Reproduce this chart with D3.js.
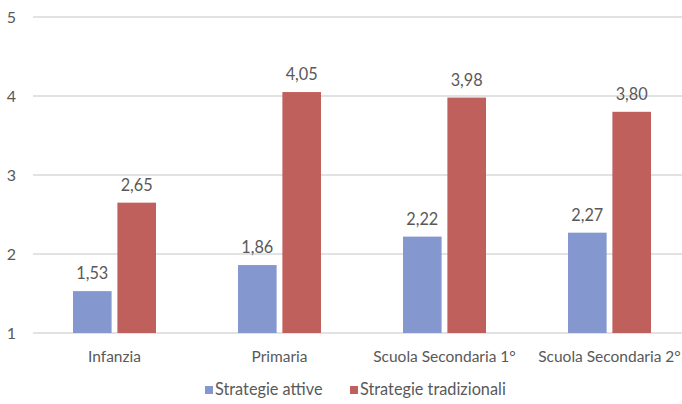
<!DOCTYPE html>
<html><head><meta charset="utf-8">
<script src="https://cdn.jsdelivr.net/npm/d3@7"></script>
<style>body{margin:0;background:#fff}svg{display:block}text{font-family:Lato,"Open Sans",sans-serif;fill:#595959}</style>
</head><body>
<script>
const categories = ["Infanzia","Primaria","Scuola Secondaria 1°","Scuola Secondaria 2°"];
const seriesNames = ["Strategie attive","Strategie tradizionali"];
const attive = [1.53,1.86,2.22,2.27];
const tradizionali = [2.65,4.05,3.98,3.80];
const yTicks = [1,2,3,4,5];
const colors = ["#8497cf","#c0605c"];

const W=682,H=404;
const svg=d3.select("body").append("svg").attr("width",W).attr("height",H);
const x=d3.scaleBand().domain(categories).range([32,692]);
const sub=d3.scaleBand().domain([0,1]).range([0,83]).paddingInner(0.13);
const y=d3.scaleLinear().domain([1,5]).range([333,17]);

const grid=svg.append("g");
grid.selectAll("line").data(yTicks).join("line")
 .attr("x1",33).attr("x2",W).attr("y1",d=>y(d)).attr("y2",d=>y(d))
 .attr("stroke","#d9d9d9").attr("stroke-width",1.3);
svg.append("g").selectAll("text").data(yTicks).join("text")
 .attr("x",16).attr("y",d=>y(d)+5.5).attr("text-anchor","end")
 .style("font-size","16px").text(d=>d);

const fmt=d=>d.toFixed(2).replace(".",",");
const series=[attive,tradizionali];
series.forEach((vals,s)=>{
  const g=svg.append("g");
  const off=d=>x(d)+x.bandwidth()/2-41.5+sub(s);
  g.selectAll("rect").data(categories).join("rect")
   .attr("x",(d)=>off(d)).attr("width",sub.bandwidth())
   .attr("y",(d,i)=>y(vals[i])).attr("height",(d,i)=>y(1)-y(vals[i]))
   .attr("fill",colors[s]);
  g.selectAll("text").data(categories).join("text")
   .attr("x",d=>off(d)+sub.bandwidth()/2).attr("y",(d,i)=>y(vals[i])-12)
   .attr("text-anchor","middle").style("font-size","16.3px").text((d,i)=>fmt(vals[i]));
});

svg.append("g").selectAll("text").data(categories).join("text")
 .attr("x",d=>x(d)+x.bandwidth()/2).attr("y",362).attr("text-anchor","middle")
 .style("font-size","15.5px").text(d=>d);

const leg=svg.append("g");
const lx=[205,350];
seriesNames.forEach((n,i)=>{
  leg.append("rect").attr("x",lx[i]).attr("y",386).attr("width",8).attr("height",8).attr("fill",colors[i]);
  leg.append("text").attr("x",lx[i]+10).attr("y",395).style("font-size","16.3px").text(n);
});
</script>
</body></html>
